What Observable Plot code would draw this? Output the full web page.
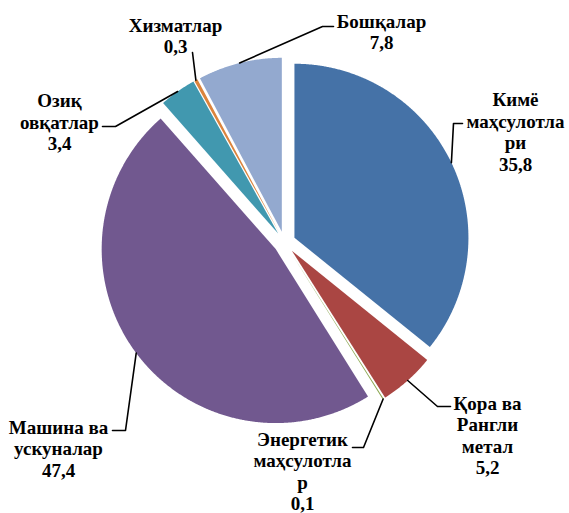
<!DOCTYPE html>
<html><head><meta charset="utf-8">
<script src="https://cdn.jsdelivr.net/npm/d3@7"></script>
<script src="https://cdn.jsdelivr.net/npm/@observablehq/plot@0.6"></script>
<style>body{margin:0;background:#fff}#chart{width:569px;height:513px}
#chart svg text{font-family:"Liberation Serif","Times New Roman",serif !important;}</style>
</head><body><div id="chart"></div>
<script>
// ---- data ----
const categories = ["Кимё маҳсулотлари", "Қора ва Рангли метал", "Энергетик маҳсулотлар", "Машина ва ускуналар", "Озиқ овқатлар", "Хизматлар", "Бошқалар"];
const labelLines = [["Кимё", "маҳсулотла", "ри"], ["Қора ва", "Рангли", "метал"], ["Энергетик", "маҳсулотла", "р"], ["Машина ва", "ускуналар"], ["Озиқ", "овқатлар"], ["Хизматлар"], ["Бошқалар"]];
const values = [35.8, 5.2, 0.1, 47.4, 3.4, 0.3, 7.8];
const colors = ["#4572A7", "#AA4643", "#89A54E", "#71588F", "#4198AF", "#DB843D", "#93A9CF"];

// ---- layout (pixels) ----
const W = 569, H = 513, CX = 284, CY = 242, R = 174, EXPLODE = 11;
// label block centres and leader elbows/ends, in pixels
const labelPos = [[515, 131], [487, 434.5], [302, 470.5], [58, 448], [59, 121.5], [175, 35], [381, 31]];
const leaderElbow = [[453, 123], [437, 406], [363, 447], [125, 430], [115, 126], [192, 52], [322, 26]];
const leaderEnd = [[462, 123], [450, 406], [352, 447], [112, 430], [102, 126], [192, 52], [333, 26]];

const ux = px => (px - CX) / R;
const uy = py => (CY - py) / R;
const ex = EXPLODE / R;

const arcs = d3.pie().sort(null).value(d => d)(values);
const slices = [];
const leaders = [];
const labels = [];
arcs.forEach((a, i) => {
  const mid = (a.startAngle + a.endAngle) / 2;
  const ox = ex * Math.sin(mid), oy = ex * Math.cos(mid);
  const name = categories[i];
  slices.push({name, x: ox, y: oy});
  const n = Math.max(2, Math.ceil((a.endAngle - a.startAngle) / 0.005));
  for (let k = 0; k <= n; k++) {
    const t = a.startAngle + (a.endAngle - a.startAngle) * k / n;
    slices.push({name, x: ox + Math.sin(t), y: oy + Math.cos(t)});
  }
  slices.push({name, x: ox, y: oy});
  leaders.push({name, x: ox + Math.sin(mid), y: oy + Math.cos(mid)});
  leaders.push({name, x: ux(leaderElbow[i][0]), y: uy(leaderElbow[i][1])});
  leaders.push({name, x: ux(leaderEnd[i][0]), y: uy(leaderEnd[i][1])});
  labels.push({
    name,
    x: ux(labelPos[i][0]), y: uy(labelPos[i][1]),
    text: labelLines[i].join("\n") + "\n" + String(values[i]).replace(".", ",")
  });
});

const chart = Plot.plot({
  width: W, height: H,
  margin: 0,
  x: {domain: [ux(0), ux(W)], range: [0, W], axis: null},
  y: {domain: [uy(H), uy(0)], range: [H, 0], axis: null},
  color: {domain: categories, range: colors},
  style: {background: "#fff", fontFamily: "'Liberation Serif', 'Times New Roman', serif"},
  marks: [
    Plot.line(slices, {x: "x", y: "y", z: "name", fill: "name", stroke: "none", curve: "linear"}),
    Plot.line(leaders, {x: "x", y: "y", z: "name", stroke: "#000", strokeWidth: 1.6, curve: "linear"}),
    Plot.text(labels, {
      x: "x", y: "y", text: "text",
      fontSize: 19, fontWeight: "bold", fontFamily: "'Liberation Serif', 'Times New Roman', serif",
      lineHeight: 1.13, textAnchor: "middle", lineAnchor: "middle", fill: "#000"
    })
  ]
});
document.getElementById("chart").appendChild(chart);
</script>
</body></html>
